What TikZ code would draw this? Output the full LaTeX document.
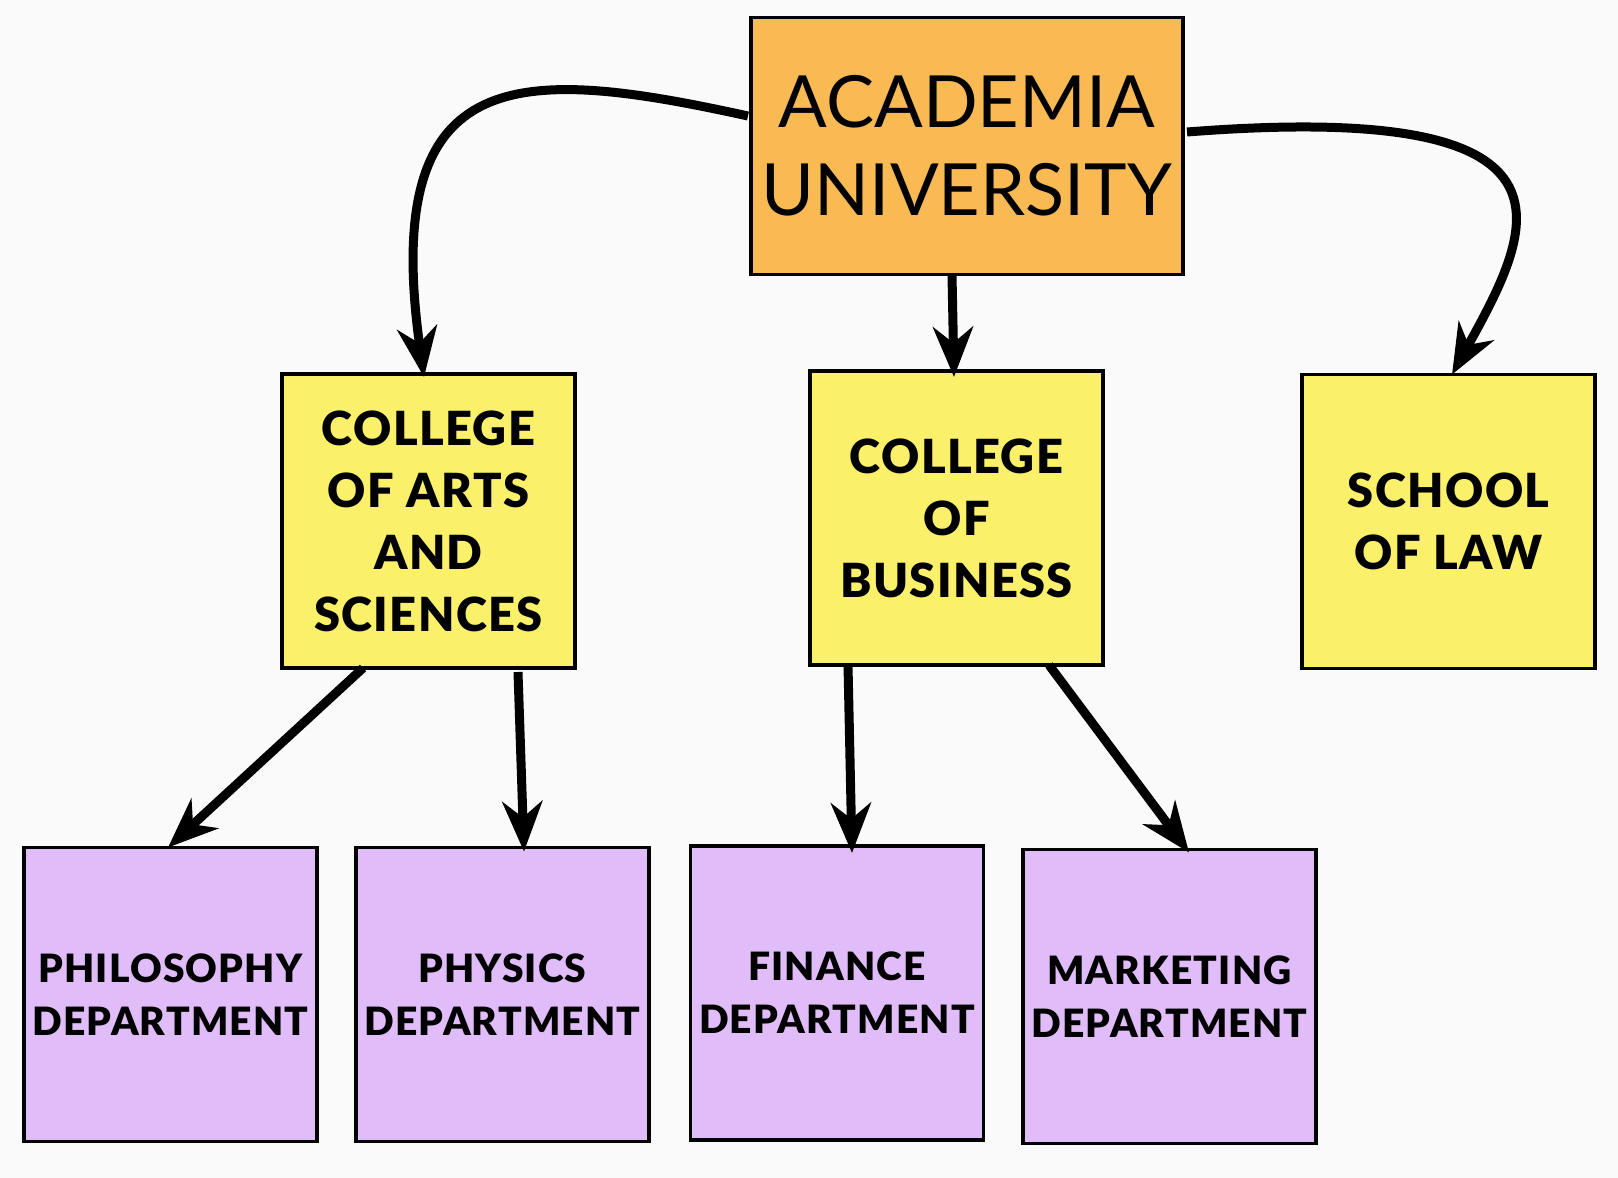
\documentclass[tikz,border=0pt]{standalone}
\usepackage{fontspec}
\setmainfont{Lato}
\newfontfamily\heavyfont[LetterSpace=3]{Lato Black}
\usetikzlibrary{arrows.meta, positioning, calc}
\definecolor{inkpaper}{HTML}{FAFAFA}
\definecolor{inkorange}{HTML}{F9BA54}
\definecolor{inkyellow}{HTML}{FAF06A}
\definecolor{inklilac}{HTML}{E0BCF8}
\tikzset{
  unitbox/.style={draw=black, line width=1.9pt, inner sep=0pt, outer sep=0pt,
    align=center, minimum width=146.5pt, minimum height=147pt},
  college/.style={unitbox, fill=inkyellow, font=\heavyfont\fontsize{23.5}{31}\selectfont},
  dept/.style={unitbox, fill=inklilac, font=\heavyfont\fontsize{19.5}{26.5}\selectfont},
  link/.style={-{Stealth[length=25pt, width=20pt, inset=8pt]}, line width=4.5pt, black},
}

\begin{document}
\begin{tikzpicture}[x=0.5pt, y=-0.5pt]
  \path[fill=inkpaper, use as bounding box] (0,0) rectangle (1618,1178);
  % top of the tree
  \node[unitbox, fill=inkorange, minimum width=216pt, minimum height=128.5pt,
        font=\fontsize{36}{44}\selectfont] (academia) at (967,146) {ACADEMIA\\UNIVERSITY};
  % colleges
  \node[college] (arts) at (428.5,521) {COLLEGE\\OF ARTS\\AND\\SCIENCES};
  \node[college] (business) at (956.5,518) {COLLEGE\\OF\\BUSINESS};
  \node[college] (law) at (1448.5,521.5) {SCHOOL\\OF LAW};
  % departments
  \node[dept] (philosophy) at (170.5,994.5) {PHILOSOPHY\\DEPARTMENT};
  \node[dept] (physics) at (502.5,994.5) {PHYSICS\\DEPARTMENT};
  \node[dept] (finance) at (837,993) {FINANCE\\DEPARTMENT};
  \node[dept] (marketing) at (1169.5,996.5) {MARKETING\\DEPARTMENT};

  \draw[link] ([shift={(-3,-30)}]academia.west)
    .. controls +(-228,-50) and +(-44,-317) .. ([shift={(-4.5,3)}]arts.north);
  \draw[link] ([shift={(-15,0)}]academia.south) -- ([shift={(-2.5,6)}]business.north);
  \draw[link] ([shift={(4,-14)}]academia.east)
    .. controls +(412,-32) and +(82,-148) .. ([shift={(3.5,0)}]law.north);

  \draw[link] ([shift={(-65.5,0)}]arts.south) -- ([shift={(-2.5,0)}]philosophy.north);
  \draw[link] ([shift={(89.5,4)}]arts.south) -- ([shift={(21.5,4)}]physics.north);
  \draw[link] ([shift={(-108.5,0)}]business.south) -- ([shift={(15,7)}]finance.north);
  \draw[link] ([shift={(92.5,0)}]business.south) -- ([shift={(19.5,3)}]marketing.north);
\end{tikzpicture}
\end{document}
